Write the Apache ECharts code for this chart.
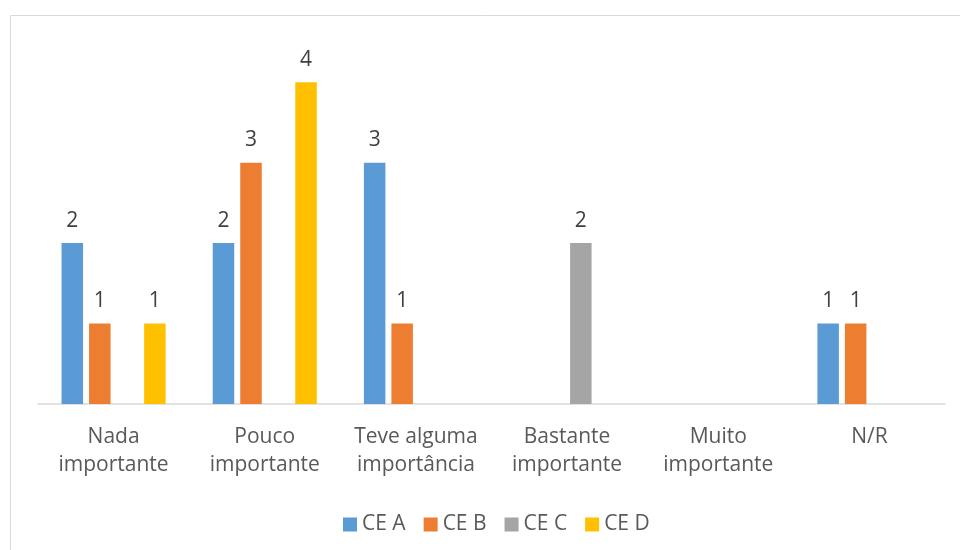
<!DOCTYPE html>
<html>
<head>
<meta charset="utf-8">
<script src="https://cdn.jsdelivr.net/npm/echarts@6/dist/echarts.min.js"></script>
<style>html,body{margin:0;padding:0;background:#fff;}#c{width:960px;height:550px;}</style>
</head>
<body>
<div id="c"></div>
<script>
const categories = ['Nada\nimportante', 'Pouco\nimportante', 'Teve alguma\nimportância', 'Bastante\nimportante', 'Muito\nimportante', 'N/R'];
const seriesNames = ['CE A', 'CE B', 'CE C', 'CE D'];
const ceA = [2, 2, 3, null, null, 1];
const ceB = [1, 3, 1, null, null, 1];
const ceC = [null, null, null, 2, null, null];
const ceD = [1, 4, null, null, null, null];
const colors = ['#5B9BD5', '#ED7D31', '#A5A5A5', '#FFC000'];
const seriesData = [ceA, ceB, ceC, ceD];

const FONT = 'Open Sans';
const chart = echarts.init(document.getElementById('c'));
chart.setOption({
  animation: false,
  color: colors,
  textStyle: { fontFamily: FONT },
  graphic: [{
    type: 'rect', left: 8, top: 13, z: -1,
    shape: { width: 1000, height: 600 },
    style: { fill: 'none', stroke: '#d9d9d9', lineWidth: 1 }
  }],
  grid: { left: 38, right: 15, top: 42, bottom: 146 },
  legend: {
    data: seriesNames,
    left: 338,
    top: 509,
    itemWidth: 14,
    itemHeight: 14,
    itemGap: 18,
    icon: 'rect',
    textStyle: { fontFamily: FONT, fontSize: 21, color: '#595959', lineHeight: 20 }
  },
  xAxis: {
    type: 'category',
    data: categories,
    axisLine: { lineStyle: { color: '#d9d9d9', width: 1.5 } },
    axisTick: { show: false },
    axisLabel: { fontFamily: FONT, fontSize: 21, color: '#595959', lineHeight: 28, margin: 19, interval: 0 }
  },
  yAxis: {
    type: 'value', min: 0, max: 4.5,
    show: false,
    splitLine: { show: false }
  },
  series: seriesData.map((d, i) => ({
    name: seriesNames[i],
    type: 'bar',
    data: d,
    barWidth: 21.5,
    barGap: '28%',
    label: { show: true, position: 'top', distance: 12, fontFamily: FONT, fontSize: 21, color: '#404040' }
  }))
});
</script>
</body>
</html>
